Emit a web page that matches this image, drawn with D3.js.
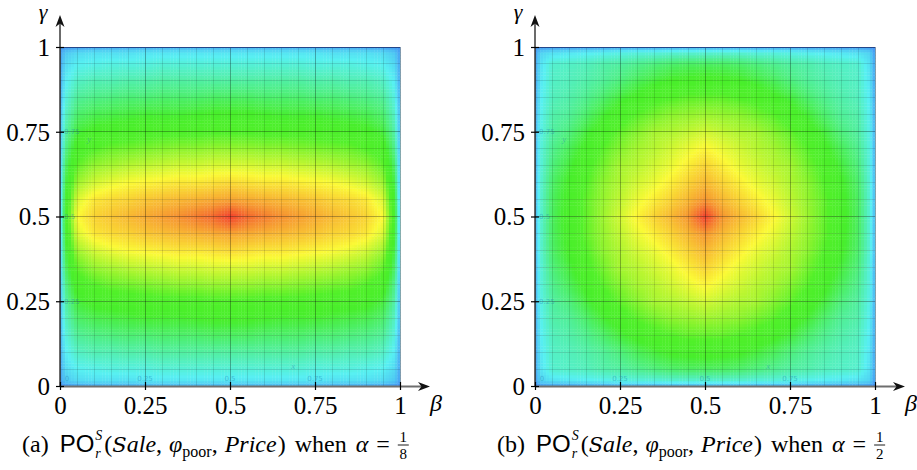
<!DOCTYPE html>
<html><head><meta charset="utf-8">
<script src="https://cdn.jsdelivr.net/npm/d3@7/dist/d3.min.js"></script>
<style>body{margin:0;background:#fff}</style>
</head><body>
<svg id="chart" width="917" height="470" xmlns="http://www.w3.org/2000/svg"></svg>
<script>
// ---------------- data ----------------
const betaNodes  = [0,0.015,0.05,0.1,0.15,0.2,0.25,0.3,0.35,0.4,0.45,0.5,0.55,0.6,0.65,0.7,0.75,0.8,0.85,0.9,0.95,0.985,1];
const gammaNodes = [0,0.015,0.05,0.1,0.15,0.2,0.25,0.3,0.35,0.4,0.45,0.5,0.55,0.6,0.65,0.7,0.75,0.8,0.85,0.9,0.95,0.985,1];

// rows: gamma from 0 (bottom) to 1 (top); columns: beta from 0 to 1  (alpha = 1/8)
const valuesA = [
 [0.05,0.07,0.09,0.10,0.11,0.11,0.11,0.12,0.12,0.12,0.12,0.12,0.12,0.12,0.12,0.12,0.11,0.11,0.11,0.10,0.09,0.07,0.05],
 [0.08,0.15,0.18,0.19,0.19,0.19,0.20,0.20,0.20,0.20,0.20,0.20,0.20,0.20,0.20,0.20,0.20,0.19,0.19,0.19,0.18,0.15,0.08],
 [0.09,0.18,0.22,0.23,0.24,0.24,0.24,0.25,0.25,0.25,0.25,0.25,0.25,0.25,0.25,0.25,0.24,0.24,0.24,0.23,0.22,0.18,0.09],
 [0.10,0.21,0.27,0.29,0.29,0.30,0.30,0.31,0.31,0.31,0.31,0.31,0.31,0.31,0.31,0.31,0.30,0.30,0.29,0.29,0.27,0.21,0.10],
 [0.11,0.24,0.32,0.34,0.35,0.36,0.36,0.37,0.37,0.37,0.38,0.38,0.38,0.37,0.37,0.37,0.36,0.36,0.35,0.34,0.32,0.24,0.11],
 [0.12,0.27,0.37,0.40,0.41,0.42,0.43,0.43,0.43,0.44,0.45,0.45,0.45,0.44,0.43,0.43,0.43,0.42,0.41,0.40,0.37,0.27,0.12],
 [0.12,0.30,0.42,0.46,0.47,0.48,0.49,0.50,0.50,0.50,0.51,0.51,0.51,0.50,0.50,0.50,0.49,0.48,0.47,0.46,0.42,0.30,0.12],
 [0.13,0.33,0.48,0.52,0.55,0.56,0.57,0.58,0.59,0.59,0.60,0.60,0.60,0.59,0.59,0.58,0.57,0.56,0.55,0.52,0.48,0.33,0.13],
 [0.14,0.37,0.54,0.60,0.62,0.64,0.65,0.66,0.67,0.67,0.68,0.68,0.68,0.67,0.67,0.66,0.65,0.64,0.62,0.60,0.54,0.37,0.14],
 [0.14,0.40,0.61,0.67,0.70,0.72,0.73,0.74,0.75,0.75,0.76,0.77,0.76,0.75,0.75,0.74,0.73,0.72,0.70,0.67,0.61,0.40,0.14],
 [0.15,0.43,0.68,0.75,0.77,0.78,0.80,0.81,0.82,0.83,0.84,0.85,0.84,0.83,0.82,0.81,0.80,0.78,0.77,0.75,0.68,0.43,0.15],
 [0.15,0.45,0.72,0.78,0.80,0.82,0.84,0.86,0.88,0.91,0.94,1.00,0.94,0.91,0.88,0.86,0.84,0.82,0.80,0.78,0.72,0.45,0.15],
 [0.15,0.43,0.68,0.75,0.77,0.78,0.80,0.81,0.82,0.83,0.84,0.85,0.84,0.83,0.82,0.81,0.80,0.78,0.77,0.75,0.68,0.43,0.15],
 [0.14,0.40,0.61,0.67,0.70,0.72,0.73,0.74,0.75,0.75,0.76,0.77,0.76,0.75,0.75,0.74,0.73,0.72,0.70,0.67,0.61,0.40,0.14],
 [0.14,0.37,0.54,0.60,0.62,0.64,0.65,0.66,0.67,0.67,0.68,0.68,0.68,0.67,0.67,0.66,0.65,0.64,0.62,0.60,0.54,0.37,0.14],
 [0.13,0.33,0.48,0.52,0.55,0.56,0.57,0.58,0.59,0.59,0.60,0.60,0.60,0.59,0.59,0.58,0.57,0.56,0.55,0.52,0.48,0.33,0.13],
 [0.12,0.30,0.42,0.46,0.47,0.48,0.49,0.50,0.50,0.50,0.51,0.51,0.51,0.50,0.50,0.50,0.49,0.48,0.47,0.46,0.42,0.30,0.12],
 [0.12,0.27,0.37,0.40,0.41,0.42,0.43,0.43,0.43,0.44,0.45,0.45,0.45,0.44,0.43,0.43,0.43,0.42,0.41,0.40,0.37,0.27,0.12],
 [0.11,0.24,0.32,0.34,0.35,0.36,0.36,0.37,0.37,0.37,0.38,0.38,0.38,0.37,0.37,0.37,0.36,0.36,0.35,0.34,0.32,0.24,0.11],
 [0.10,0.21,0.27,0.29,0.29,0.30,0.30,0.31,0.31,0.31,0.31,0.31,0.31,0.31,0.31,0.31,0.30,0.30,0.29,0.29,0.27,0.21,0.10],
 [0.09,0.18,0.22,0.23,0.24,0.24,0.24,0.25,0.25,0.25,0.25,0.25,0.25,0.25,0.25,0.25,0.24,0.24,0.24,0.23,0.22,0.18,0.09],
 [0.08,0.15,0.18,0.19,0.19,0.19,0.20,0.20,0.20,0.20,0.20,0.20,0.20,0.20,0.20,0.20,0.20,0.19,0.19,0.19,0.18,0.15,0.08],
 [0.05,0.07,0.09,0.10,0.11,0.11,0.11,0.12,0.12,0.12,0.12,0.12,0.12,0.12,0.12,0.12,0.11,0.11,0.11,0.10,0.09,0.07,0.05]
];

// alpha = 1/2
const valuesB = [
 [0.05,0.07,0.09,0.09,0.10,0.10,0.11,0.11,0.11,0.12,0.12,0.12,0.12,0.12,0.11,0.11,0.11,0.10,0.10,0.09,0.09,0.07,0.05],
 [0.07,0.17,0.19,0.20,0.21,0.22,0.23,0.24,0.24,0.25,0.25,0.25,0.25,0.25,0.24,0.24,0.23,0.22,0.21,0.20,0.19,0.17,0.07],
 [0.09,0.19,0.26,0.27,0.28,0.30,0.31,0.33,0.35,0.37,0.38,0.38,0.38,0.37,0.35,0.33,0.31,0.30,0.28,0.27,0.26,0.19,0.09],
 [0.09,0.20,0.27,0.28,0.30,0.32,0.35,0.39,0.42,0.45,0.46,0.47,0.46,0.45,0.42,0.39,0.35,0.32,0.30,0.28,0.27,0.20,0.09],
 [0.10,0.21,0.28,0.30,0.33,0.37,0.42,0.46,0.50,0.52,0.54,0.54,0.54,0.52,0.50,0.46,0.42,0.37,0.33,0.30,0.28,0.21,0.10],
 [0.10,0.22,0.30,0.32,0.37,0.43,0.48,0.53,0.56,0.59,0.60,0.61,0.60,0.59,0.56,0.53,0.48,0.43,0.37,0.32,0.30,0.22,0.10],
 [0.11,0.23,0.31,0.35,0.42,0.48,0.54,0.58,0.62,0.63,0.65,0.67,0.65,0.63,0.62,0.58,0.54,0.48,0.42,0.35,0.31,0.23,0.11],
 [0.11,0.24,0.33,0.39,0.46,0.53,0.58,0.62,0.64,0.67,0.70,0.73,0.70,0.67,0.64,0.62,0.58,0.53,0.46,0.39,0.33,0.24,0.11],
 [0.11,0.24,0.35,0.42,0.50,0.56,0.62,0.64,0.67,0.70,0.74,0.78,0.74,0.70,0.67,0.64,0.62,0.56,0.50,0.42,0.35,0.24,0.11],
 [0.12,0.25,0.37,0.45,0.52,0.59,0.63,0.67,0.70,0.74,0.78,0.82,0.78,0.74,0.70,0.67,0.63,0.59,0.52,0.45,0.37,0.25,0.12],
 [0.12,0.25,0.38,0.46,0.54,0.60,0.65,0.70,0.74,0.78,0.82,0.87,0.82,0.78,0.74,0.70,0.65,0.60,0.54,0.46,0.38,0.25,0.12],
 [0.12,0.25,0.38,0.47,0.54,0.61,0.67,0.73,0.78,0.82,0.87,1.00,0.87,0.82,0.78,0.73,0.67,0.61,0.54,0.47,0.38,0.25,0.12],
 [0.12,0.25,0.38,0.46,0.54,0.60,0.65,0.70,0.74,0.78,0.82,0.87,0.82,0.78,0.74,0.70,0.65,0.60,0.54,0.46,0.38,0.25,0.12],
 [0.12,0.25,0.37,0.45,0.52,0.59,0.63,0.67,0.70,0.74,0.78,0.82,0.78,0.74,0.70,0.67,0.63,0.59,0.52,0.45,0.37,0.25,0.12],
 [0.11,0.24,0.35,0.42,0.50,0.56,0.62,0.64,0.67,0.70,0.74,0.78,0.74,0.70,0.67,0.64,0.62,0.56,0.50,0.42,0.35,0.24,0.11],
 [0.11,0.24,0.33,0.39,0.46,0.53,0.58,0.62,0.64,0.67,0.70,0.73,0.70,0.67,0.64,0.62,0.58,0.53,0.46,0.39,0.33,0.24,0.11],
 [0.11,0.23,0.31,0.35,0.42,0.48,0.54,0.58,0.62,0.63,0.65,0.67,0.65,0.63,0.62,0.58,0.54,0.48,0.42,0.35,0.31,0.23,0.11],
 [0.10,0.22,0.30,0.32,0.37,0.43,0.48,0.53,0.56,0.59,0.60,0.61,0.60,0.59,0.56,0.53,0.48,0.43,0.37,0.32,0.30,0.22,0.10],
 [0.10,0.21,0.28,0.30,0.33,0.37,0.42,0.46,0.50,0.52,0.54,0.54,0.54,0.52,0.50,0.46,0.42,0.37,0.33,0.30,0.28,0.21,0.10],
 [0.09,0.20,0.27,0.28,0.30,0.32,0.35,0.39,0.42,0.45,0.46,0.47,0.46,0.45,0.42,0.39,0.35,0.32,0.30,0.28,0.27,0.20,0.09],
 [0.09,0.19,0.26,0.27,0.28,0.30,0.31,0.33,0.35,0.37,0.38,0.38,0.38,0.37,0.35,0.33,0.31,0.30,0.28,0.27,0.26,0.19,0.09],
 [0.07,0.17,0.19,0.20,0.21,0.22,0.23,0.24,0.24,0.25,0.25,0.25,0.25,0.25,0.24,0.24,0.23,0.22,0.21,0.20,0.19,0.17,0.07],
 [0.05,0.07,0.09,0.09,0.10,0.10,0.11,0.11,0.11,0.12,0.12,0.12,0.12,0.12,0.11,0.11,0.11,0.10,0.10,0.09,0.09,0.07,0.05]
];

const majorTicks = [0, 0.25, 0.5, 0.75, 1];
const tickLabels = ["0", "0.25", "0.5", "0.75", "1"];
const innerTicks = [0, 0.25, 0.5, 0.75];
const innerLabels = ["0", "0.25", "0.5", "0.75"];
const subLetters = ["(a)", "(b)"];
const alphaNum = ["1", "1"];
const alphaDen = ["8", "2"];
const colorStops = [0, 0.22, 0.44, 0.52, 0.72, 1];
const colorRange = ["#3a6ef4", "#58f0f2", "#48ee2c", "#52f02a", "#fbfa36", "#f2402e"];

// ---------------- drawing ----------------
const svg = d3.select("#chart");
const W = 340, H = 339, TOP = 47;
const panels = [{x0: 60, values: valuesA, capX: 22}, {x0: 535, values: valuesB, capX: 497}];
const color = d3.scaleLinear().domain(colorStops).range(colorRange).interpolate(d3.interpolateRgb).clamp(true);
const serif = "Liberation Serif, DejaVu Serif, serif";

panels.forEach((p, k) => {
  const g = svg.append("g").attr("transform", `translate(${p.x0},${TOP})`);
  const x = d3.scaleLinear().domain([0, 1]).range([0, W]);
  const y = d3.scaleLinear().domain([0, 1]).range([H, 0]);
  const V = p.values;

  // shaded surface (bilinear shading between the data nodes)
  const cells = [];
  for (let j = 0; j < gammaNodes.length - 1; j++) {
    for (let i = 0; i < betaNodes.length - 1; i++) {
      const xa = x(betaNodes[i]), xb = x(betaNodes[i + 1]);
      const ya = y(gammaNodes[j]), yb = y(gammaNodes[j + 1]);
      const nx = Math.max(1, Math.round((xb - xa) / 2.9));
      const ny = Math.max(1, Math.round((ya - yb) / 2.9));
      for (let sx = 0; sx < nx; sx++) for (let sy = 0; sy < ny; sy++) {
        const u = (sx + 0.5) / nx, w = (sy + 0.5) / ny;
        const v = (1 - u) * (1 - w) * V[j][i] + u * (1 - w) * V[j][i + 1] + (1 - u) * w * V[j + 1][i] + u * w * V[j + 1][i + 1];
        cells.push({x: xa + (xb - xa) * sx / nx, w: (xb - xa) / nx, y: ya + (yb - ya) * (sy + 1) / ny, h: (ya - yb) / ny, v});
      }
    }
  }
  g.append("g").selectAll("rect").data(cells).join("rect")
    .attr("x", d => d.x).attr("y", d => d.y)
    .attr("width", d => d.w + 0.35).attr("height", d => d.h + 0.35)
    .attr("fill", d => color(d.v));

  // grid
  const minor = x.ticks(20);
  const grid = g.append("g").attr("shape-rendering", "crispEdges");
  grid.selectAll("line.vx").data(minor).join("line")
    .attr("x1", d => x(d)).attr("x2", d => x(d)).attr("y1", 0).attr("y2", H)
    .attr("stroke", "#000").attr("stroke-opacity", d => majorTicks.includes(+d.toFixed(2)) ? 0.3 : 0.12);
  grid.selectAll("line.hy").data(minor).join("line")
    .attr("y1", d => y(d)).attr("y2", d => y(d)).attr("x1", 0).attr("x2", W)
    .attr("stroke", "#000").attr("stroke-opacity", d => majorTicks.includes(+d.toFixed(2)) ? 0.3 : 0.12);

  // top border line
  g.append("line").attr("x1", 0).attr("x2", W).attr("y1", 0.5).attr("y2", 0.5)
    .attr("stroke", "#23468a").attr("stroke-width", 1.2);

  // faint inner labels
  const faint = g.append("g").attr("font-family", "DejaVu Sans, sans-serif").attr("font-size", 7)
    .attr("fill", "#1f7fb0").attr("fill-opacity", 0.45);
  faint.selectAll("text.b").data(innerTicks).join("text")
    .attr("x", (d, i) => i === 0 ? x(d) + 7 : x(d)).attr("y", H - 5).attr("text-anchor", "middle")
    .text((d, i) => innerLabels[i]);
  faint.selectAll("text.l").data(innerTicks.slice(1)).join("text")
    .attr("x", 4).attr("y", d => y(d) + 2.5).attr("text-anchor", "start")
    .text((d, i) => innerLabels[i + 1]);
  faint.append("text").attr("x", x(0.68)).attr("y", y(0.05)).attr("font-style", "italic").attr("font-family", serif).attr("font-size", 9).text("x");
  faint.append("text").attr("x", x(0.08)).attr("y", y(0.72)).attr("font-style", "italic").attr("font-family", serif).attr("font-size", 9).text("y");

  // axes lines with arrows
  g.append("line").attr("x1", 0).attr("x2", W + 24).attr("y1", H + 0.5).attr("y2", H + 0.5)
    .attr("stroke", "#6e6e6e").attr("stroke-width", 2);
  g.append("line").attr("x1", 0).attr("x2", 0).attr("y1", H + 1).attr("y2", -26)
    .attr("stroke", "#3a3a3a").attr("stroke-width", 1.5);
  const tipX = W + 30, tipY = -TOP + 15;
  g.append("path").attr("d", `M${tipX},${H + 0.5} L${tipX - 12},${H - 4} L${tipX - 8.5},${H + 0.5} L${tipX - 12},${H + 5} Z`).attr("fill", "#111");
  g.append("path").attr("d", `M0,${tipY} L-4.5,${tipY + 12} L0,${tipY + 8.5} L4.5,${tipY + 12} Z`).attr("fill", "#111");

  // axis ticks and labels via d3 axes
  const ax = g.append("g").attr("transform", `translate(0,${H})`)
    .call(d3.axisBottom(x).tickValues(majorTicks).tickFormat((d, i) => tickLabels[i]).tickSizeInner(4).tickSizeOuter(0).tickPadding(6));
  const ay = g.append("g")
    .call(d3.axisLeft(y).tickValues(majorTicks).tickFormat((d, i) => tickLabels[i]).tickSizeInner(4).tickSizeOuter(0).tickPadding(6));
  [ax, ay].forEach(a => {
    a.attr("font-family", serif).attr("font-size", 25);
    a.select(".domain").remove();
    a.selectAll("text").style("font-family", serif).style("font-size", "25px").attr("fill", "#000");
    a.selectAll("line").attr("stroke", "#000").attr("stroke-width", 1.2);
  });
  ax.selectAll(".tick line").attr("y1", -4);
  ay.selectAll(".tick line").attr("x1", 4);
  ay.selectAll("text").attr("dy", "0.33em");

  // axis titles
  g.append("text").attr("x", W + 36).attr("y", H + 25).attr("text-anchor", "middle")
    .style("font-family", serif).attr("font-style", "italic").style("font-size", "24px").text("β");
  g.append("text").attr("x", -17).attr("y", -TOP + 19).attr("text-anchor", "middle")
    .style("font-family", serif).attr("font-style", "italic").style("font-size", "22px").text("γ");

  // caption
  const capY = 452;
  const cap = svg.append("g").attr("fill", "#000");
  let cx = p.capX;
  function piece(txt, opts = {}) {
    const t = cap.append("text").attr("x", cx).attr("y", capY + (opts.dy || 0))
      .style("font-size", (opts.size || 24) + "px")
      .attr("font-style", opts.italic ? "italic" : "normal")
      .style("font-family", opts.family || serif).text(txt);
    const wdt = t.node().getComputedTextLength();
    if (!opts.noAdvance) cx += wdt + (opts.after || 0);
    return wdt;
  }
  piece(subLetters[k], {after: 11});
  piece("PO", {family: "Liberation Sans, DejaVu Sans, sans-serif", after: 1});
  const w1 = piece("S", {italic: true, size: 14, dy: -12, noAdvance: true});
  const w2 = piece("r", {italic: true, size: 14, dy: 6, noAdvance: true});
  cx += Math.max(w1, w2) + 2;
  piece("(");
  piece("S", {italic: true, family: "DejaVu Serif, serif", size: 21});
  piece("ale", {italic: true});
  piece(",", {after: 7});
  piece("φ", {italic: true});
  piece("poor", {size: 16, dy: 5});
  piece(",", {after: 7});
  piece("Price", {italic: true, after: 1});
  piece(")", {after: 9});
  piece("when", {after: 9});
  piece("α", {italic: true, after: 8});
  piece("=", {after: 8});
  const fx = cx;
  const fw = 11;
  cap.append("text").attr("x", fx + fw / 2).attr("y", capY - 10).attr("text-anchor", "middle").style("font-family", serif).style("font-size", "15px").text(alphaNum[k]);
  cap.append("line").attr("x1", fx).attr("x2", fx + fw).attr("y1", capY - 7).attr("y2", capY - 7).attr("stroke", "#000").attr("stroke-width", 0.9);
  cap.append("text").attr("x", fx + fw / 2).attr("y", capY + 6.5).attr("text-anchor", "middle").style("font-family", serif).style("font-size", "15px").text(alphaDen[k]);
});
</script>
</body></html>
